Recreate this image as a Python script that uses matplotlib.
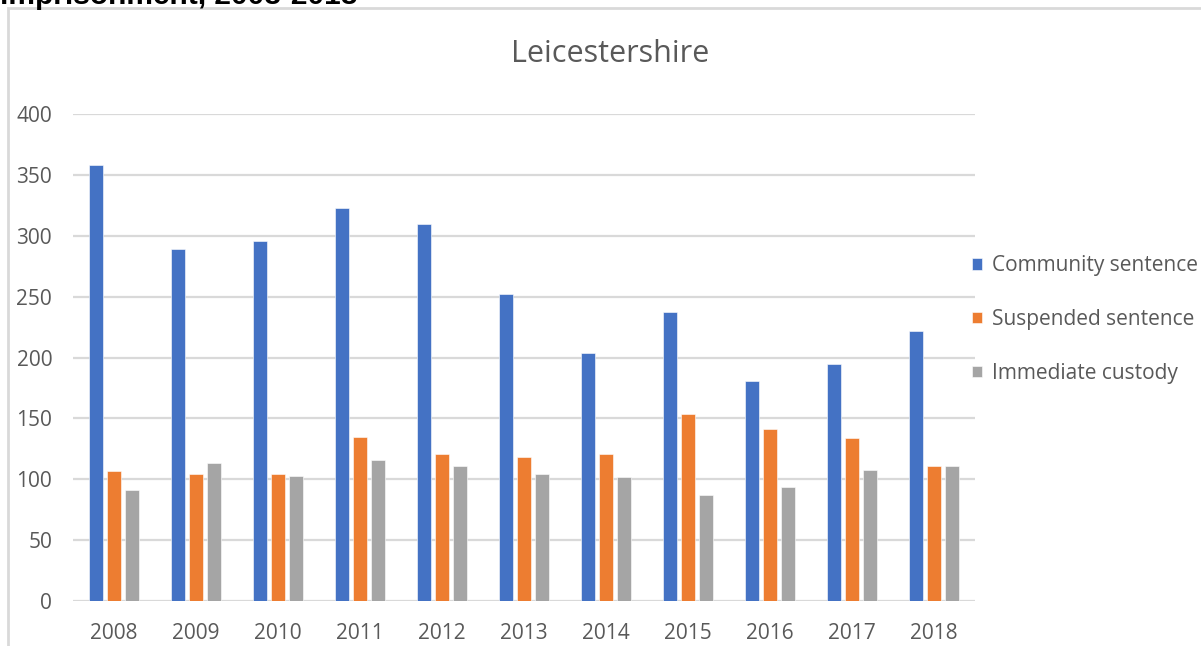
import numpy as np
import matplotlib
matplotlib.use('Agg')
import matplotlib.pyplot as plt
from matplotlib.patches import Rectangle

# data
years = ['2008', '2009', '2010', '2011', '2012', '2013', '2014', '2015', '2016', '2017', '2018']
community = [358, 289, 296, 323, 310, 252, 204, 237, 181, 195, 222]
suspended = [107, 104, 104, 135, 121, 118, 121, 154, 141, 134, 111]
custody = [91, 113, 103, 116, 111, 104, 102, 87, 94, 108, 111]
series_names = ['Community sentence', 'Suspended sentence', 'Immediate custody']

colors = ['#4472C4', '#ED7D31', '#A5A5A5']
txt = '#595959'
grid = '#D9D9D9'

plt.rcParams['font.family'] = ['Open Sans', 'DejaVu Sans']

W, H = 1201, 646
fig = plt.figure(figsize=(W/100, H/100), dpi=100)
ax = fig.add_axes([73/W, 1-601/H, (975-73)/W, (601-114)/H])

x = np.arange(len(years))
step = 18/82.
bw = 14/82.
for i, vals in enumerate([community, suspended, custody]):
	ax.bar(x + (i-1)*step, vals, width=bw, color=colors[i], label=series_names[i],
		edgecolor='white', linewidth=0.4, zorder=3)

ax.set_xlim(-0.5, len(years)-0.5)
ax.set_ylim(0, 400)
ax.set_yticks(range(0, 401, 50))
ax.set_xticks(x)
ax.set_xticklabels(years)
ax.yaxis.grid(True, color=grid, linewidth=1.6, zorder=0)
ax.set_axisbelow(True)
for s in ax.spines.values():
	s.set_visible(False)
ax.tick_params(axis='both', length=0, labelsize=15, labelcolor=txt)
ax.tick_params(axis='y', pad=15)
ax.tick_params(axis='x', pad=16)

fig.text(610/W, 1-54/H, 'Leicestershire', ha='center', va='center', fontsize=22, color=txt)

leg = ax.legend(loc='upper left', bbox_to_anchor=(972/W, 1-255/H), bbox_transform=fig.transFigure,
	frameon=False, fontsize=15, handlelength=0.5, handleheight=0.5, handletextpad=0.45,
	labelspacing=1.58, borderaxespad=0, borderpad=0)
for t in leg.get_texts():
	t.set_color(txt)

# outer chart border (partly cut off)
fig.add_artist(Rectangle((8/W, -0.1), 1.1, 1-8/H+0.1, transform=fig.transFigure,
	fill=False, edgecolor=grid, linewidth=2))

# cut-off heading above the chart, as in the source
fig.text(0, 1-4/H, 'imprisonment, 2008-2018', ha='left', va='baseline',
	fontsize=21.5, fontweight='bold', color='black', family=['Liberation Sans', 'DejaVu Sans'])

fig.savefig('out.png', dpi=100)
